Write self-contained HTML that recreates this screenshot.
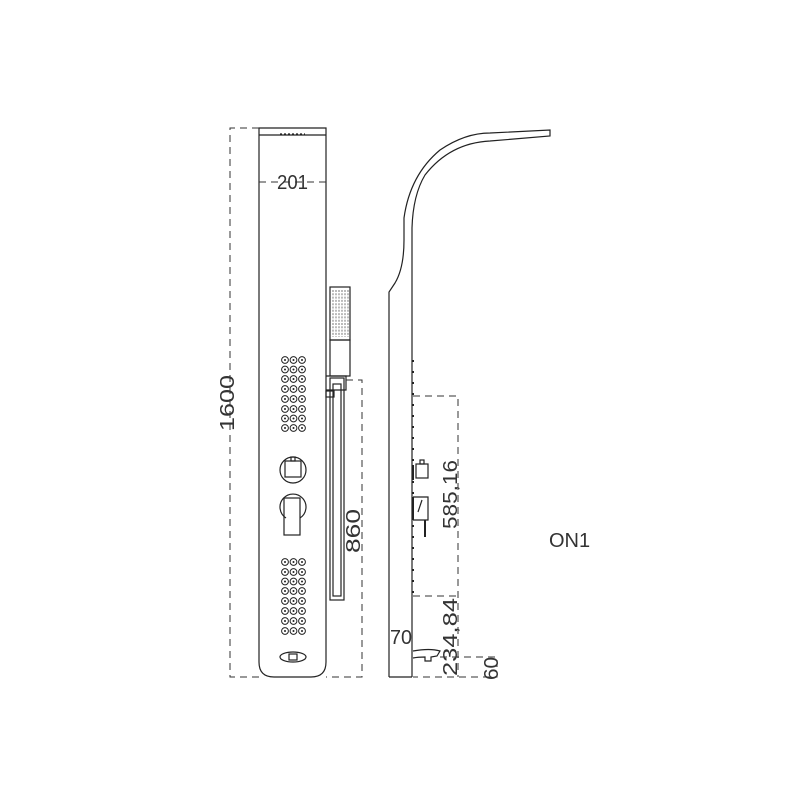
<!DOCTYPE html>
<html><head><style>html,body{margin:0;background:#fff;width:800px;height:800px;overflow:hidden}</style></head><body>
<svg width="800" height="800" viewBox="0 0 800 800" xmlns="http://www.w3.org/2000/svg" font-family="Liberation Sans, sans-serif">
<defs>
<g id="d"><circle r="3.4" fill="none" stroke="#222" stroke-width="1"/><circle r="1" fill="#222"/></g>
<g id="row"><use href="#d" x="285"/><use href="#d" x="293.5"/><use href="#d" x="302"/></g>
</defs>
<g fill="none" stroke="#222" stroke-width="1.2">
<path d="M259,128 H326 V662 Q326,677 311,677 H274 Q259,677 259,662 Z"/>
<line x1="259" y1="135" x2="326" y2="135"/>
<line x1="280" y1="134" x2="305" y2="134" stroke-dasharray="2 2"/>
<circle cx="293" cy="470" r="13"/>
<rect x="285" y="461" width="16" height="16"/>
<rect x="291" y="457" width="4" height="4"/>
<path d="M286,518 A13,13 0 1 1 300,518"/>
<rect x="284" y="498" width="16" height="37"/>
<ellipse cx="293" cy="657" rx="13" ry="5"/>
<rect x="289" y="654" width="8" height="6"/>
<rect x="330" y="287" width="20" height="53"/>
<rect x="330" y="340" width="20" height="36"/>
<path d="M326,376 H346 V390 H326"/>
<rect x="330" y="378" width="14" height="222"/>
<rect x="333" y="384" width="8" height="212"/>
<rect x="326" y="391" width="8" height="6"/>
<path d="M389,677 V292 L395,283 Q404,268 404,240 L404,218 Q410,175 440,150 Q465,133 490,133 L550,130 V136 L490,141 Q450,143 425,175 Q413,195 412,228 V677"/>
<line x1="389" y1="677" x2="412" y2="677"/>
<line x1="413" y1="360" x2="413" y2="600" stroke-dasharray="2 9" stroke-width="2"/>
<rect x="416" y="464" width="12" height="14"/>
<rect x="420" y="460" width="4" height="4"/>
<line x1="413" y1="465" x2="413" y2="480" stroke-width="2"/>
<path d="M413,497 H428 V520 H413"/>
<line x1="413" y1="497" x2="413" y2="520" stroke-width="2"/>
<line x1="418" y1="512" x2="422" y2="500"/>
<line x1="425" y1="520" x2="425" y2="537" stroke-width="2"/>
<path d="M413,651 Q430,648 440,651 L437,656 L431,657 L431,661 L425,661 L425,657 Q418,657 413,658"/>
</g>
<g fill="none" stroke="#333" stroke-width="1" stroke-dasharray="7 5">
<path d="M259,128 H230 V677 H259"/>
<line x1="259" y1="182" x2="326" y2="182"/>
<path d="M346,380 H362 V677 H326"/>
<path d="M413,396 H458 V677"/>
<line x1="413" y1="596" x2="458" y2="596"/>
<path d="M440,657 H497 V677 H413"/>
</g>
<g fill="#222" stroke="none">
<use href="#row" y="360"/><use href="#row" y="369.5"/><use href="#row" y="379"/><use href="#row" y="389"/><use href="#row" y="399"/><use href="#row" y="409"/><use href="#row" y="418.5"/><use href="#row" y="428"/>
<use href="#row" y="562"/><use href="#row" y="572"/><use href="#row" y="581.5"/><use href="#row" y="591"/><use href="#row" y="601"/><use href="#row" y="611"/><use href="#row" y="621"/><use href="#row" y="631"/>
</g>
<g fill="none" stroke="#555" stroke-width="0.8">
<path d="M333,290 V337 M336,290 V337 M339,290 V337 M342,290 V337 M345,290 V337 M348,290 V337" stroke-dasharray="2 1.3"/>
</g>
<g fill="#333" font-size="20">
<text x="277" y="189" textLength="31" lengthAdjust="spacingAndGlyphs">201</text>
<text transform="translate(234,431) rotate(-90)" textLength="56" lengthAdjust="spacingAndGlyphs">1600</text>
<text transform="translate(360,553) rotate(-90)" textLength="44" lengthAdjust="spacingAndGlyphs">860</text>
<text transform="translate(457,529) rotate(-90)" textLength="69" lengthAdjust="spacingAndGlyphs">585,16</text>
<text transform="translate(457,676) rotate(-90)" textLength="78" lengthAdjust="spacingAndGlyphs">234,84</text>
<text transform="translate(498,680) rotate(-90)" textLength="23" lengthAdjust="spacingAndGlyphs">60</text>
<text x="390" y="644" textLength="22" lengthAdjust="spacingAndGlyphs">70</text>
<text x="549" y="547" font-size="20">ON1</text>
</g>
</svg>
</body></html>
